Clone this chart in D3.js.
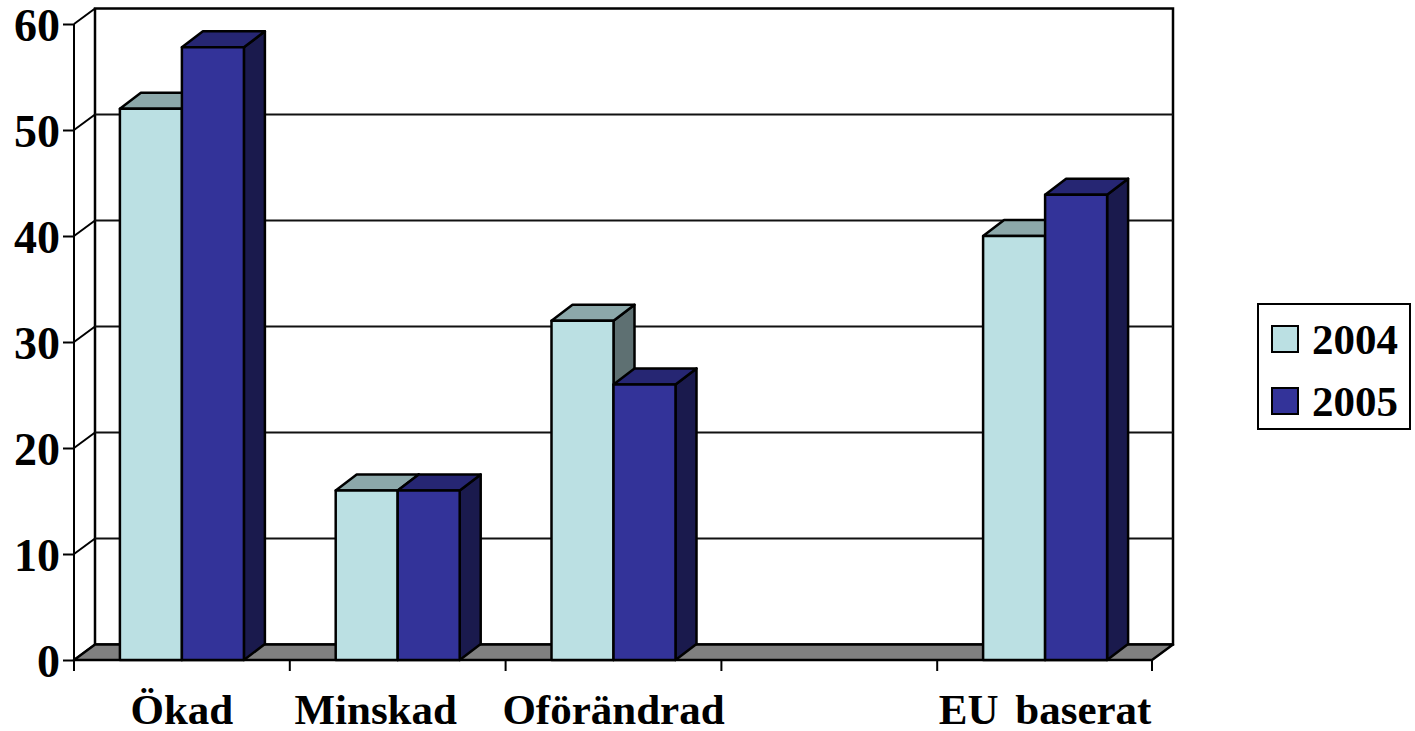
<!DOCTYPE html>
<html lang="en">
<head>
  <meta charset="utf-8"/>
  <style>
    html, body { margin: 0; padding: 0; background: #fff; }
    svg { display: block; }
    text { font-family: "Liberation Serif", serif; font-weight: bold; fill: #000; }
    .axis path { display: none; }
    .axis line { stroke: #000; stroke-width: 2px; }
  </style>
  <script src="https://d3js.org/d3.v7.min.js"></script>
</head>
<body>
<svg id="chart" width="1415" height="731"></svg>
<script>
  // Values
  const categories = ["Ökad", "Minskad", "Oförändrad", "", "EU baserat"];
  const seriesNames = ["2004", "2005"];
  const values2004 = [52, 16, 32, null, 40];
  const values2005 = [57.8, 16, 26, null, 43.9];
  const yTicks = [0, 10, 20, 30, 40, 50, 60];

  const colors = {
    "2004": { front: "#bbe0e3", top: "#8ca8aa", side: "#5e7072" },
    "2005": { front: "#333399", top: "#262673", side: "#1a1a4d" }
  };

  const DX = 21, DY = 15.5;  // depth of the walls
  const BAR_DY = 16;         // depth of the bars
  const svg = d3.select("#chart");

  const x = d3.scaleBand().domain(categories).range([74, 1153]);
  const y = d3.scaleLinear().domain([0, 60]).range([660, 24]);
  const series = d3.scaleBand().domain(seriesNames).range([0, 124]);
  const barOffset = (x.bandwidth() - 124) / 2;

  const left = 74, right = 1152;
  const y0 = y(0), yTop = y(60);

  // Back wall and left wall
  svg.append("rect")
    .attr("x", left + DX).attr("y", yTop - DY)
    .attr("width", right - left).attr("height", y0 - yTop)
    .attr("fill", "#fff").attr("stroke", "#000").attr("stroke-width", 2.5);

  // Grid lines over back and side walls
  const grid = svg.append("g");
  grid.selectAll("line.back").data(yTicks.slice(1, -1)).enter().append("line")
    .attr("class", "back")
    .attr("x1", left + DX).attr("x2", right + DX)
    .attr("y1", d => y(d) - DY).attr("y2", d => y(d) - DY)
    .attr("stroke", "#111").attr("stroke-width", 2);
  grid.selectAll("line.side").data(yTicks).enter().append("line")
    .attr("class", "side")
    .attr("x1", left).attr("x2", left + DX)
    .attr("y1", d => y(d)).attr("y2", d => y(d) - DY)
    .attr("stroke", "#000").attr("stroke-width", 2);

  // Floor
  svg.append("polygon")
    .attr("points", [[left, y0], [left + DX, y0 - DY], [right + DX, y0 - DY], [right, y0]].join(" "))
    .attr("fill", "#808080").attr("stroke", "#000").attr("stroke-width", 2.5).attr("stroke-linejoin", "round");

  // Y axis
  const yAxis = d3.axisLeft(y).tickValues(yTicks).tickSize(11).tickPadding(3);
  const yg = svg.append("g").attr("class", "axis").attr("transform", `translate(${left},0)`).call(yAxis);
  yg.selectAll("text").attr("font-size", 46).attr("dy", "0.36em");
  svg.append("line")
    .attr("x1", left).attr("x2", left).attr("y1", yTop).attr("y2", y0 + 11)
    .attr("stroke", "#000").attr("stroke-width", 2);

  // X axis: baseline, ticks on band edges, labels
  svg.append("line")
    .attr("x1", left).attr("x2", right).attr("y1", y0).attr("y2", y0)
    .attr("stroke", "#000").attr("stroke-width", 2);
  const edges = categories.map(c => x(c)).concat(right);
  svg.selectAll("line.xtick").data(edges).enter().append("line")
    .attr("class", "xtick")
    .attr("x1", d => d).attr("x2", d => d)
    .attr("y1", y0).attr("y2", y0 + 11)
    .attr("stroke", "#000").attr("stroke-width", 2);
  const labelShift = { "Minskad": -22 };  // the original label sits left of its band centre
  svg.selectAll("text.xlabel").data(categories).enter().append("text")
    .attr("class", "xlabel")
    .attr("x", d => x(d) + x.bandwidth() / 2 + (labelShift[d] || 0))
    .attr("y", 724)
    .attr("text-anchor", "middle")
    .attr("font-size", 43)
    .attr("word-spacing", 6)
    .text(d => d);

  // Bars
  function drawBar(g, cat, name, v) {
    if (v === null) return;
    const bx = x(cat) + barOffset + series(name);
    const bw = series.bandwidth();
    const by = y(v);
    const c = colors[name];
    const b = g.append("g").attr("stroke", "#000").attr("stroke-width", 2.5).attr("stroke-linejoin", "round");
    b.append("polygon")
      .attr("points", [[bx + bw, by], [bx + bw + DX, by - BAR_DY], [bx + bw + DX, y0 - BAR_DY], [bx + bw, y0]].join(" "))
      .attr("fill", c.side);
    b.append("polygon")
      .attr("points", [[bx, by], [bx + DX, by - BAR_DY], [bx + bw + DX, by - BAR_DY], [bx + bw, by]].join(" "))
      .attr("fill", c.top);
    b.append("rect")
      .attr("x", bx).attr("y", by).attr("width", bw).attr("height", y0 - by)
      .attr("fill", c.front);
  }
  const bars = svg.append("g");
  categories.forEach((cat, i) => {
    drawBar(bars, cat, "2004", values2004[i]);
    drawBar(bars, cat, "2005", values2005[i]);
  });

  // Legend
  const legend = svg.append("g").attr("transform", "translate(1258,304)");
  legend.append("rect")
    .attr("width", 152).attr("height", 125)
    .attr("fill", "#fff").attr("stroke", "#000").attr("stroke-width", 2);
  const legendRow = d3.scalePoint().domain(seriesNames).range([35, 97]);
  const items = legend.selectAll("g.item").data(seriesNames).enter().append("g")
    .attr("class", "item")
    .attr("transform", d => `translate(0,${legendRow(d)})`);
  items.append("rect")
    .attr("x", 14).attr("y", -13).attr("width", 26).attr("height", 26)
    .attr("fill", d => colors[d].front)
    .attr("stroke", "#000").attr("stroke-width", 2);
  items.append("text")
    .attr("x", 54).attr("dy", "0.36em")
    .attr("font-size", 43)
    .text(d => d);
</script>
</body>
</html>
